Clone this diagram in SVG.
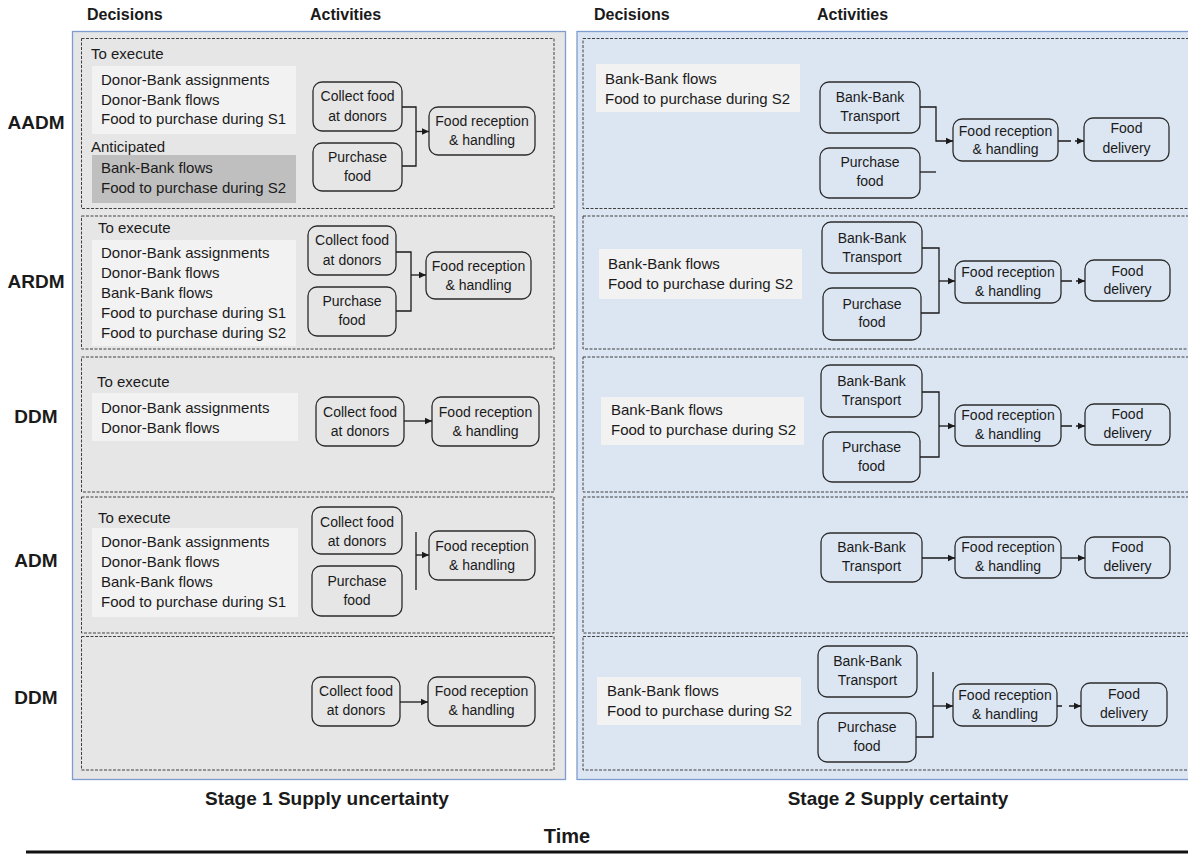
<svg xmlns="http://www.w3.org/2000/svg" width="1188" height="861" viewBox="0 0 1188 861">
<style>
text{font-family:"Liberation Sans",Arial,sans-serif;fill:#1a1a1a}
.h{font-size:16px;font-weight:bold}
.lab{font-size:19px;font-weight:bold;text-anchor:middle}
.stage{font-size:19px;font-weight:bold;text-anchor:middle}
.t{font-size:15px}
.n{font-size:14px;text-anchor:middle}
.panelL{fill:#e6e6e6;stroke:#7f9ccf;stroke-width:1.3}
.panelR{fill:#dce6f2;stroke:#7f9ccf;stroke-width:1.3}
.dash{fill:none;stroke:#404040;stroke-width:1;stroke-dasharray:3 1.5}
.lt{fill:#f2f2f2}
.dk{fill:#bfbfbf}
.node{fill:none;stroke:#2b2b2b;stroke-width:1.3}
.c{fill:none;stroke:#1a1a1a;stroke-width:1.3}
.a{fill:none;stroke:#1a1a1a;stroke-width:1.3;marker-end:url(#arr)}
</style>
<defs>
<marker id="arr" markerUnits="userSpaceOnUse" markerWidth="8" markerHeight="8" refX="7.5" refY="4" orient="auto">
<path d="M0,0.5 L7.5,4 L0,7.5 z" fill="#1a1a1a"/>
</marker>
</defs>
<rect width="1188" height="861" fill="#ffffff"/>

<g id="headers">
<text class="h" x="87" y="20">Decisions</text>
<text class="h" x="310" y="20">Activities</text>
<text class="h" x="594" y="20">Decisions</text>
<text class="h" x="817" y="20">Activities</text>
</g>

<g id="row-labels">
<text class="lab" x="36" y="129">AADM</text>
<text class="lab" x="36" y="288">ARDM</text>
<text class="lab" x="36" y="423">DDM</text>
<text class="lab" x="36" y="567">ADM</text>
<text class="lab" x="36" y="704">DDM</text>
</g>

<g id="panels">
<rect class="panelL" x="72.5" y="31.5" width="493" height="748"/>
<rect class="panelR" x="577" y="31.5" width="620" height="748"/>
<rect class="dash" x="81.5" y="38.5" width="472.5" height="170"/>
<rect class="dash" x="81.5" y="216" width="472.5" height="133"/>
<rect class="dash" x="81.5" y="357" width="472.5" height="135"/>
<rect class="dash" x="81.5" y="497" width="472.5" height="136"/>
<rect class="dash" x="81.5" y="636.5" width="472.5" height="133.5"/>
<rect class="dash" x="583" y="38.5" width="620" height="170"/>
<rect class="dash" x="583" y="216" width="620" height="133"/>
<rect class="dash" x="583" y="357" width="620" height="135"/>
<rect class="dash" x="583" y="497" width="620" height="136"/>
<rect class="dash" x="583" y="636.5" width="620" height="133.5"/>
</g>

<g id="decisions-L1">
<text class="t" x="91" y="59">To execute</text>
<rect class="lt" x="92" y="66" width="204" height="68"/>
<text class="t" x="101" y="85">Donor-Bank assignments</text>
<text class="t" x="101" y="105">Donor-Bank flows</text>
<text class="t" x="101" y="124">Food to purchase during S1</text>
<text class="t" x="91" y="152">Anticipated</text>
<rect class="dk" x="92" y="155" width="204" height="48"/>
<text class="t" x="101" y="173">Bank-Bank flows</text>
<text class="t" x="101" y="193">Food to purchase during S2</text>
</g>
<g id="L1-collect"><rect class="node" x="313" y="82" width="89" height="49" rx="9"/><text class="n" x="357.5" y="101">Collect food</text><text class="n" x="357.5" y="120.5">at donors</text></g>
<g id="L1-purchase"><rect class="node" x="313" y="143" width="89" height="48" rx="9"/><text class="n" x="357.5" y="162">Purchase</text><text class="n" x="357.5" y="181">food</text></g>
<g id="L1-reception"><rect class="node" x="429" y="107" width="106" height="48" rx="9"/><text class="n" x="482" y="126">Food reception</text><text class="n" x="482" y="145">&amp; handling</text></g>

<g id="decisions-L2">
<text class="t" x="98" y="233">To execute</text>
<rect class="lt" x="92" y="240" width="204" height="106"/>
<text class="t" x="101" y="258">Donor-Bank assignments</text>
<text class="t" x="101" y="278">Donor-Bank flows</text>
<text class="t" x="101" y="298">Bank-Bank flows</text>
<text class="t" x="101" y="318">Food to purchase during S1</text>
<text class="t" x="101" y="338">Food to purchase during S2</text>
</g>
<g id="L2-collect"><rect class="node" x="308" y="226" width="88" height="49" rx="9"/><text class="n" x="352" y="245">Collect food</text><text class="n" x="352" y="265">at donors</text></g>
<g id="L2-purchase"><rect class="node" x="308" y="287" width="88" height="49" rx="9"/><text class="n" x="352" y="306">Purchase</text><text class="n" x="352" y="325">food</text></g>
<g id="L2-reception"><rect class="node" x="426" y="252" width="105" height="47" rx="9"/><text class="n" x="478.5" y="271">Food reception</text><text class="n" x="478.5" y="289.5">&amp; handling</text></g>

<g id="decisions-L3">
<text class="t" x="97" y="387">To execute</text>
<rect class="lt" x="92" y="393" width="206" height="48"/>
<text class="t" x="101" y="413">Donor-Bank assignments</text>
<text class="t" x="101" y="433">Donor-Bank flows</text>
</g>
<g id="L3-collect"><rect class="node" x="316" y="397" width="88" height="49" rx="9"/><text class="n" x="360" y="417">Collect food</text><text class="n" x="360" y="435.5">at donors</text></g>
<g id="L3-reception"><rect class="node" x="432" y="397" width="107" height="49" rx="9"/><text class="n" x="485.5" y="417">Food reception</text><text class="n" x="485.5" y="435.5">&amp; handling</text></g>

<g id="decisions-L4">
<text class="t" x="98" y="523">To execute</text>
<rect class="lt" x="92" y="528" width="206" height="89"/>
<text class="t" x="101" y="547">Donor-Bank assignments</text>
<text class="t" x="101" y="567">Donor-Bank flows</text>
<text class="t" x="101" y="587">Bank-Bank flows</text>
<text class="t" x="101" y="607">Food to purchase during S1</text>
</g>
<g id="L4-collect"><rect class="node" x="312" y="507" width="90" height="47" rx="9"/><text class="n" x="357" y="527">Collect food</text><text class="n" x="357" y="546">at donors</text></g>
<g id="L4-purchase"><rect class="node" x="312" y="566" width="90" height="50" rx="9"/><text class="n" x="357" y="586">Purchase</text><text class="n" x="357" y="605">food</text></g>
<g id="L4-reception"><rect class="node" x="429" y="531" width="106" height="49" rx="9"/><text class="n" x="482" y="551">Food reception</text><text class="n" x="482" y="570">&amp; handling</text></g>

<g id="L5-collect"><rect class="node" x="312" y="677" width="88" height="49" rx="9"/><text class="n" x="356" y="696">Collect food</text><text class="n" x="356" y="715">at donors</text></g>
<g id="L5-reception"><rect class="node" x="428" y="677" width="107" height="49" rx="9"/><text class="n" x="481.5" y="696">Food reception</text><text class="n" x="481.5" y="715">&amp; handling</text></g>

<g id="decisions-R1">
<rect class="lt" x="596" y="64" width="204" height="48"/>
<text class="t" x="605" y="84">Bank-Bank flows</text>
<text class="t" x="605" y="104">Food to purchase during S2</text>
</g>
<g id="R1-transport"><rect class="node" x="820" y="82" width="100" height="51" rx="9"/><text class="n" x="870" y="102">Bank-Bank</text><text class="n" x="870" y="121">Transport</text></g>
<g id="R1-purchase"><rect class="node" x="820" y="148" width="100" height="50" rx="9"/><text class="n" x="870" y="167">Purchase</text><text class="n" x="870" y="186">food</text></g>
<g id="R1-reception"><rect class="node" x="953" y="119" width="105" height="42" rx="9"/><text class="n" x="1005.5" y="136">Food reception</text><text class="n" x="1005.5" y="154">&amp; handling</text></g>
<g id="R1-delivery"><rect class="node" x="1084" y="118" width="85" height="43" rx="9"/><text class="n" x="1126.5" y="133">Food</text><text class="n" x="1126.5" y="153">delivery</text></g>

<g id="decisions-R2">
<rect class="lt" x="599" y="249" width="203" height="50"/>
<text class="t" x="608" y="269">Bank-Bank flows</text>
<text class="t" x="608" y="289">Food to purchase during S2</text>
</g>
<g id="R2-transport"><rect class="node" x="822" y="222" width="100" height="51" rx="9"/><text class="n" x="872" y="243">Bank-Bank</text><text class="n" x="872" y="262">Transport</text></g>
<g id="R2-purchase"><rect class="node" x="823" y="288" width="98" height="52" rx="9"/><text class="n" x="872" y="309">Purchase</text><text class="n" x="872" y="327">food</text></g>
<g id="R2-reception"><rect class="node" x="955" y="261" width="106" height="42" rx="9"/><text class="n" x="1008" y="277">Food reception</text><text class="n" x="1008" y="296">&amp; handling</text></g>
<g id="R2-delivery"><rect class="node" x="1085" y="260" width="85" height="41" rx="9"/><text class="n" x="1127.5" y="276">Food</text><text class="n" x="1127.5" y="294">delivery</text></g>

<g id="decisions-R3">
<rect class="lt" x="601" y="397" width="203" height="48"/>
<text class="t" x="611" y="415">Bank-Bank flows</text>
<text class="t" x="611" y="435">Food to purchase during S2</text>
</g>
<g id="R3-transport"><rect class="node" x="821" y="365" width="101" height="52" rx="9"/><text class="n" x="871.5" y="386">Bank-Bank</text><text class="n" x="871.5" y="405">Transport</text></g>
<g id="R3-purchase"><rect class="node" x="823" y="432" width="97" height="50" rx="9"/><text class="n" x="871.5" y="452">Purchase</text><text class="n" x="871.5" y="471">food</text></g>
<g id="R3-reception"><rect class="node" x="955" y="405" width="106" height="41" rx="9"/><text class="n" x="1008" y="420">Food reception</text><text class="n" x="1008" y="439">&amp; handling</text></g>
<g id="R3-delivery"><rect class="node" x="1085" y="404" width="85" height="41" rx="9"/><text class="n" x="1127.5" y="418.5">Food</text><text class="n" x="1127.5" y="437.5">delivery</text></g>

<g id="R4-transport"><rect class="node" x="821" y="533" width="101" height="49" rx="9"/><text class="n" x="871.5" y="552">Bank-Bank</text><text class="n" x="871.5" y="571">Transport</text></g>
<g id="R4-reception"><rect class="node" x="955" y="537" width="106" height="41" rx="9"/><text class="n" x="1008" y="552">Food reception</text><text class="n" x="1008" y="571">&amp; handling</text></g>
<g id="R4-delivery"><rect class="node" x="1085" y="537" width="85" height="41" rx="9"/><text class="n" x="1127.5" y="552">Food</text><text class="n" x="1127.5" y="571">delivery</text></g>

<g id="decisions-R5">
<rect class="lt" x="597" y="677" width="204" height="48"/>
<text class="t" x="607" y="696">Bank-Bank flows</text>
<text class="t" x="607" y="716">Food to purchase during S2</text>
</g>
<g id="R5-transport"><rect class="node" x="818" y="646" width="99" height="51" rx="9"/><text class="n" x="867.5" y="666">Bank-Bank</text><text class="n" x="867.5" y="684.5">Transport</text></g>
<g id="R5-purchase"><rect class="node" x="818" y="713" width="98" height="49" rx="9"/><text class="n" x="867" y="732">Purchase</text><text class="n" x="867" y="751">food</text></g>
<g id="R5-reception"><rect class="node" x="953" y="684" width="104" height="42" rx="9"/><text class="n" x="1005" y="700">Food reception</text><text class="n" x="1005" y="719">&amp; handling</text></g>
<g id="R5-delivery"><rect class="node" x="1081" y="683" width="86" height="43" rx="9"/><text class="n" x="1124" y="699">Food</text><text class="n" x="1124" y="718">delivery</text></g>

<g id="connectors">
<path class="c" d="M402,107 H416 V166 H402"/>
<path class="a" d="M416,131.5 H429"/>
<path class="c" d="M396,252 H411 V311 H396"/>
<path class="a" d="M411,275 H426"/>
<path class="a" d="M404,421 H432"/>
<path class="c" d="M416,532 V590"/>
<path class="a" d="M416,555 H429"/>
<path class="a" d="M400,702 H428"/>

<path class="a" d="M920,107 H936 V141 H953"/>
<path class="c" d="M920,172 H936"/>
<path class="a" d="M1058,141 H1071 M1075,141 H1084"/>

<path class="c" d="M922,248 H939 V313 H921"/>
<path class="a" d="M939,281 H955"/>
<path class="a" d="M1061,281 H1072 M1076,281 H1085"/>

<path class="c" d="M922,392 H939 V457 H920"/>
<path class="a" d="M939,426 H955"/>
<path class="a" d="M1061,426 H1072 M1076,426 H1085"/>

<path class="a" d="M922,558 H955"/>
<path class="a" d="M1061,558 H1085"/>

<path class="c" d="M933,672 V737 H916"/>
<path class="a" d="M933,706 H953"/>
<path class="a" d="M1057,706 H1062 M1069,706 H1081"/>
</g>

<g id="footer">
<text class="stage" x="327" y="805">Stage 1 Supply uncertainty</text>
<text class="stage" x="898" y="805">Stage 2 Supply certainty</text>
<text class="stage" x="567" y="843" style="font-size:20px">Time</text>
<line x1="26" y1="852" x2="1188" y2="852" stroke="#111" stroke-width="3"/>
</g>
</svg>
